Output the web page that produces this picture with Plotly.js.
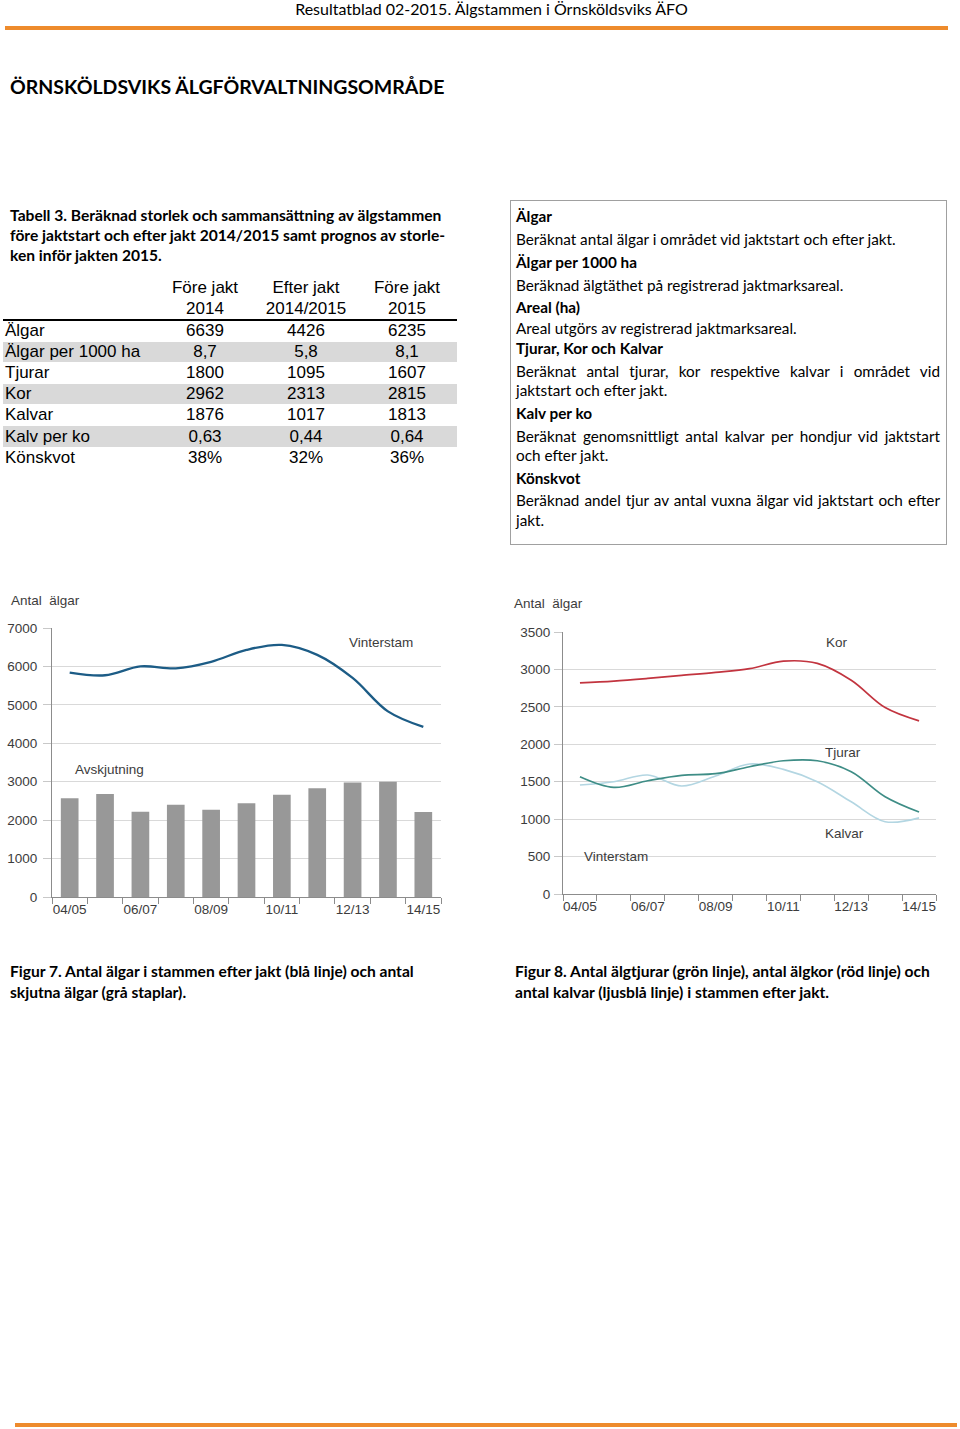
<!DOCTYPE html>
<html>
<head>
<meta charset="utf-8">
<script src="https://cdn.plot.ly/plotly-3.0.1.min.js"></script>
<style>
  html, body { margin:0; padding:0; background:#fff; }
  #page { position:relative; width:960px; height:1429px; overflow:hidden; font-family:Lato, "Open Sans", sans-serif; color:#000; }
  .abs { position:absolute; white-space:nowrap; }
  .bar { position:absolute; background:#ee8b2c; }
  .tcell { position:absolute; font-family:"Liberation Sans", Arial, sans-serif; font-size:17px; line-height:21px; height:21px; }
  .box { position:absolute; border:1.5px solid #a0a0a0; box-sizing:border-box; }
  .bline { position:absolute; left:516px; width:424px; font-size:15.3px; line-height:18px; white-space:nowrap; }
  .just { text-align:justify; text-align-last:justify; white-space:normal; }
  .cap { font-weight:bold; font-size:15.6px; }
</style>
</head>
<body>
<div id="page">
  <div class="abs" id="hdr" style="left:0; width:983px; top:0; text-align:center; font-size:16px; line-height:18px;">Resultatblad 02-2015. Älgstammen i Örnsköldsviks ÄFO</div>
  <div class="bar" style="left:5px; top:26px; width:943px; height:4px;"></div>
  <div class="abs" style="left:10px; top:75px; font-size:19.5px; line-height:24px; font-weight:bold;">ÖRNSKÖLDSVIKS ÄLGFÖRVALTNINGSOMRÅDE</div>

  <div class="abs cap" style="left:10px; top:205px; line-height:20px;">Tabell 3. Beräknad storlek och sammansättning av älgstammen<br>före jaktstart och efter jakt 2014/2015 samt prognos av storle-<br>ken inför jakten 2015.</div>

  <div id="tbl"></div>

  <div class="box" style="left:510px; top:200px; width:437px; height:345px;"></div>
  <div id="txt"></div>

  <div id="chart1" style="position:absolute; left:0; top:585px; width:460px; height:340px;"></div>
  <div id="chart2" style="position:absolute; left:505px; top:590px; width:450px; height:335px;"></div>

  <div class="abs cap" style="left:10px; top:961px; line-height:21px;">Figur 7. Antal älgar i stammen efter jakt (blå linje) och antal<br>skjutna älgar (grå staplar).</div>
  <div class="abs cap" style="left:515px; top:961px; line-height:21px;">Figur 8. Antal älgtjurar (grön linje), antal älgkor (röd linje) och<br>antal kalvar (ljusblå linje) i stammen efter jakt.</div>

  <div class="bar" style="left:15px; top:1423px; width:942px; height:4px;"></div>
</div>
<script>
// ---------- Table data ----------
var tableHeaders1 = ['Före jakt', 'Efter jakt', 'Före jakt'];
var tableHeaders2 = ['2014', '2014/2015', '2015'];
var tableRows = ['Älgar', 'Älgar per 1000 ha', 'Tjurar', 'Kor', 'Kalvar', 'Kalv per ko', 'Könskvot'];
var fore2014 = ['6639', '8,7', '1800', '2962', '1876', '0,63', '38%'];
var efter2014_15 = ['4426', '5,8', '1095', '2313', '1017', '0,44', '32%'];
var fore2015 = ['6235', '8,1', '1607', '2815', '1813', '0,64', '36%'];

// ---------- Explanation box ----------
var boxHeads = ['Älgar', 'Älgar per 1000 ha', 'Areal (ha)', 'Tjurar, Kor och Kalvar', 'Kalv per ko', 'Könskvot'];
var boxTexts = [
  ['Beräknat antal älgar i området vid jaktstart och efter jakt.'],
  ['Beräknad älgtäthet på registrerad jaktmarksareal.'],
  ['Areal utgörs av registrerad jaktmarksareal.'],
  ['Beräknat antal tjurar, kor respektive kalvar i området vid', 'jaktstart och efter jakt.'],
  ['Beräknat genomsnittligt antal kalvar per hondjur vid jaktstart', 'och efter jakt.'],
  ['Beräknad andel tjur av antal vuxna älgar vid jaktstart och efter', 'jakt.']
];

// ---------- Chart data ----------
var seasons = ['04/05','05/06','06/07','07/08','08/09','09/10','10/11','11/12','12/13','13/14','14/15'];
var seasonLabels = ['04/05','','06/07','','08/09','','10/11','','12/13','','14/15'];
var avskjutning = [2570, 2680, 2220, 2400, 2270, 2440, 2660, 2830, 2980, 3000, 2210];
var vinterstam = [5840, 5770, 6000, 5950, 6120, 6430, 6560, 6300, 5700, 4830, 4426];
var kor = [2820, 2845, 2880, 2920, 2960, 3010, 3110, 3080, 2855, 2490, 2313];
var tjurar = [1567, 1424, 1513, 1584, 1607, 1700, 1780, 1780, 1634, 1300, 1095];
var kalvar = [1456, 1500, 1589, 1442, 1576, 1736, 1665, 1500, 1232, 966, 1017];

// ---------- Build table ----------
(function(){
  var t = document.getElementById('tbl');
  var html = '';
  var colCenters = [205, 306, 407];
  var top0 = 320, rowH = 21.1;
  for (var c = 0; c < 3; c++) {
    html += '<div class="tcell" style="left:' + (colCenters[c]-60) + 'px;width:120px;text-align:center;top:277px;">' + tableHeaders1[c] + '</div>';
    html += '<div class="tcell" style="left:' + (colCenters[c]-60) + 'px;width:120px;text-align:center;top:298px;">' + tableHeaders2[c] + '</div>';
  }
  html += '<div style="position:absolute;left:3px;top:318.5px;width:454px;height:2px;background:#000;"></div>';
  var cols = [fore2014, efter2014_15, fore2015];
  for (var r = 0; r < tableRows.length; r++) {
    var y = top0 + r * rowH;
    if (r % 2 === 1) {
      html += '<div style="position:absolute;left:3px;top:' + (y + 0.5) + 'px;width:454px;height:' + (rowH - 0.5) + 'px;background:#d9d9d9;"></div>';
    }
    html += '<div class="tcell" style="left:5px;top:' + y + 'px;">' + tableRows[r] + '</div>';
    for (var c2 = 0; c2 < 3; c2++) {
      html += '<div class="tcell" style="left:' + (colCenters[c2]-60) + 'px;width:120px;text-align:center;top:' + y + 'px;">' + cols[c2][r] + '</div>';
    }
  }
  t.innerHTML = html;
})();

// ---------- Build explanation box ----------
(function(){
  var t = document.getElementById('txt');
  var headY = [216, 262, 307, 348, 413, 478];
  var textY = [[239], [285], [328], [371, 390], [436, 455], [500, 520]];
  var html = '';
  for (var i = 0; i < boxHeads.length; i++) {
    html += '<div class="bline" style="top:' + (headY[i]-9) + 'px;font-weight:bold;">' + boxHeads[i] + '</div>';
    for (var j = 0; j < boxTexts[i].length; j++) {
      var justify = (boxTexts[i].length > 1 && j === 0);
      html += '<div class="bline' + (justify ? ' just' : '') + '" style="top:' + (textY[i][j]-9) + 'px;">' + boxTexts[i][j] + '</div>';
    }
  }
  t.innerHTML = html;
})();

// ---------- Charts ----------
var chartFont = {family: '"Liberation Sans", Arial, sans-serif', size: 13.5, color: '#3c3c3c'};

function xAxis() {
  return {
    type: 'category',
    tickmode: 'array',
    tickvals: seasons,
    ticktext: seasonLabels,
    tickson: 'boundaries',
    ticks: 'outside',
    ticklen: 6,
    tickcolor: '#8c8c8c',
    showline: true,
    linecolor: '#8c8c8c',
    linewidth: 1,
    showgrid: false,
    zeroline: false,
    range: [-0.5, 10.5],
    fixedrange: true,
    tickangle: 0
  };
}
function yAxis(maxV, dt, standoff) {
  return {
    range: [0, maxV],
    dtick: dt,
    tick0: 0,
    tickmode: 'linear',
    ticks: 'outside',
    ticklen: 8,
    tickcolor: '#c8c8c8',
    ticklabelstandoff: standoff,
    showline: true,
    linecolor: '#8c8c8c',
    linewidth: 1,
    showgrid: true,
    gridcolor: '#d9d9d9',
    gridwidth: 1,
    zeroline: false,
    fixedrange: true
  };
}

var data1 = [
  {type: 'bar', x: seasons, y: avskjutning, width: 0.5, marker: {color: '#989898'}, hoverinfo: 'skip'},
  {type: 'scatter', mode: 'lines', x: seasons, y: vinterstam, line: {color: '#1c5c86', width: 2.3, shape: 'spline', smoothing: 1}, hoverinfo: 'skip'}
];
var layout1 = {
  width: 460, height: 340,
  margin: {l: 52, r: 19, t: 43, b: 28, autoexpand: false},
  paper_bgcolor: 'rgba(0,0,0,0)', plot_bgcolor: 'rgba(0,0,0,0)',
  font: chartFont,
  showlegend: false,
  xaxis: xAxis(),
  yaxis: yAxis(7000, 1000, 3),
  annotations: [
    {xref: 'paper', yref: 'paper', x: -0.1105, y: 1.104, xanchor: 'left', yanchor: 'middle', text: 'Antal  älgar', showarrow: false, font: chartFont},
    {x: 8.8, y: 6620, text: 'Vinterstam', showarrow: false, font: chartFont},
    {x: 1.13, y: 3310, text: 'Avskjutning', showarrow: false, font: chartFont}
  ]
};

var data2 = [
  {type: 'scatter', mode: 'lines', x: seasons, y: kalvar, line: {color: '#b3d6e2', width: 1.6, shape: 'spline', smoothing: 1}, hoverinfo: 'skip'},
  {type: 'scatter', mode: 'lines', x: seasons, y: tjurar, line: {color: '#3e8d86', width: 1.7, shape: 'spline', smoothing: 1}, hoverinfo: 'skip'},
  {type: 'scatter', mode: 'lines', x: seasons, y: kor, line: {color: '#c2343f', width: 1.7, shape: 'spline', smoothing: 1}, hoverinfo: 'skip'}
];
var layout2 = {
  width: 450, height: 335,
  margin: {l: 58, r: 19, t: 42, b: 31, autoexpand: false},
  paper_bgcolor: 'rgba(0,0,0,0)', plot_bgcolor: 'rgba(0,0,0,0)',
  font: chartFont,
  showlegend: false,
  xaxis: xAxis(),
  yaxis: yAxis(3500, 500, 1),
  annotations: [
    {xref: 'paper', yref: 'paper', x: -0.1367, y: 1.107, xanchor: 'left', yanchor: 'middle', text: 'Antal  älgar', showarrow: false, font: chartFont},
    {x: 7.59, y: 3354, text: 'Kor', showarrow: false, font: chartFont},
    {x: 7.75, y: 1891, text: 'Tjurar', showarrow: false, font: chartFont},
    {x: 7.81, y: 810, text: 'Kalvar', showarrow: false, font: chartFont},
    {x: 1.07, y: 498, text: 'Vinterstam', showarrow: false, font: chartFont}
  ]
};

var cfg = {displayModeBar: false, staticPlot: true};
Plotly.newPlot('chart1', data1, layout1, cfg);
Plotly.newPlot('chart2', data2, layout2, cfg);
</script>
</body>
</html>
